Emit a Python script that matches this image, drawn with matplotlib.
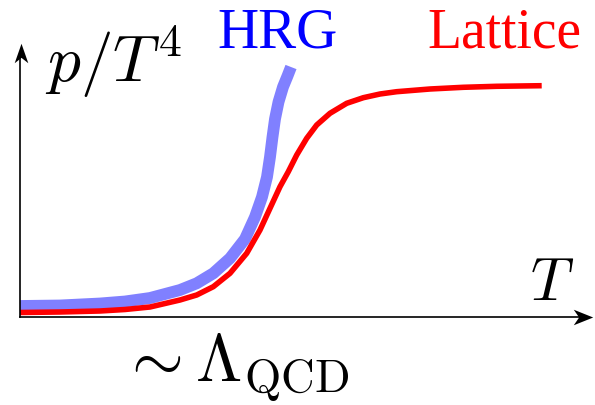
import matplotlib
matplotlib.use("Agg")
import matplotlib.pyplot as plt
from matplotlib.path import Path

plt.rcParams['mathtext.fontset'] = 'cm'

# curves (T, p/T^4 in arbitrary units)
hrg_T = [0.0, 0.4, 0.8, 1.05, 1.3, 1.6, 1.767, 1.933, 2.1, 2.25, 2.35, 2.42,
         2.47, 2.50, 2.525, 2.55, 2.585, 2.63, 2.675, 2.71]
hrg_p = [0.11, 0.115, 0.135, 0.155, 0.19, 0.27, 0.337, 0.437, 0.587, 0.78, 1.0, 1.2,
         1.4, 1.6, 1.8, 1.98, 2.15, 2.30, 2.41, 2.50]
lat_T = [0.0, 0.4, 0.8, 1.05, 1.3, 1.6, 1.767, 1.933, 2.1, 2.267, 2.4, 2.5, 2.6,
         2.683, 2.767, 2.867, 2.967, 3.1, 3.267, 3.433, 3.6, 3.767, 4.1, 4.433,
         4.767, 5.217]
lat_p = [0.045, 0.05, 0.06, 0.075, 0.10, 0.17, 0.22, 0.303, 0.437, 0.637, 0.87, 1.087,
         1.303, 1.453, 1.62, 1.787, 1.92, 2.037, 2.137, 2.193, 2.23, 2.253, 2.28, 2.297,
         2.307, 2.313]

fig = plt.figure(figsize=(5.95, 4.05), dpi=100)
ax = fig.add_axes([0, 0, 1, 1])
ax.set_xlim(-0.2, 5.75)
ax.set_ylim(-0.88, 3.17)
ax.axis('off')

ax.plot(hrg_T, hrg_p, color='#8080ff', lw=8.5, solid_capstyle='butt', solid_joinstyle='round')
ax.plot(lat_T, lat_p, color='red', lw=4, solid_capstyle='butt', solid_joinstyle='round')

# axes lines with stealth-style arrow heads
ax.plot([0, 5.6], [0, 0], color='black', lw=1.2)
ax.plot([0, 0], [0, 2.6], color='black', lw=1.2)
head_r = Path([(1, 0), (-1, 0.8), (-0.45, 0), (-1, -0.8), (1, 0)],
              [Path.MOVETO, Path.LINETO, Path.LINETO, Path.LINETO, Path.CLOSEPOLY])
head_u = Path([(0, 1), (0.7, -1), (0, -0.45), (-0.7, -1), (0, 1)],
              [Path.MOVETO, Path.LINETO, Path.LINETO, Path.LINETO, Path.CLOSEPOLY])
ax.plot([5.635], [0], marker=head_r, markersize=14, color='black', mew=0)
ax.plot([0.01], [2.64], marker=head_u, markersize=14, color='black', mew=0)

ax.text(0.25, 2.35, r'$p/T^4$', fontsize=47, va='baseline')
ax.text(5.1, 0.17, r'$T$', fontsize=43, va='baseline')
ax.text(1.0, -0.65, r'$\sim\Lambda_{\mathrm{QCD}}$', fontsize=48, va='baseline')
ax.text(1.97, 2.70, 'HRG', fontsize=41, color='blue', family='Liberation Serif', va='baseline')
ax.text(4.07, 2.70, 'Lattice', fontsize=40, color='red', family='Liberation Serif', va='baseline')

fig.savefig('out.png', dpi=100)
